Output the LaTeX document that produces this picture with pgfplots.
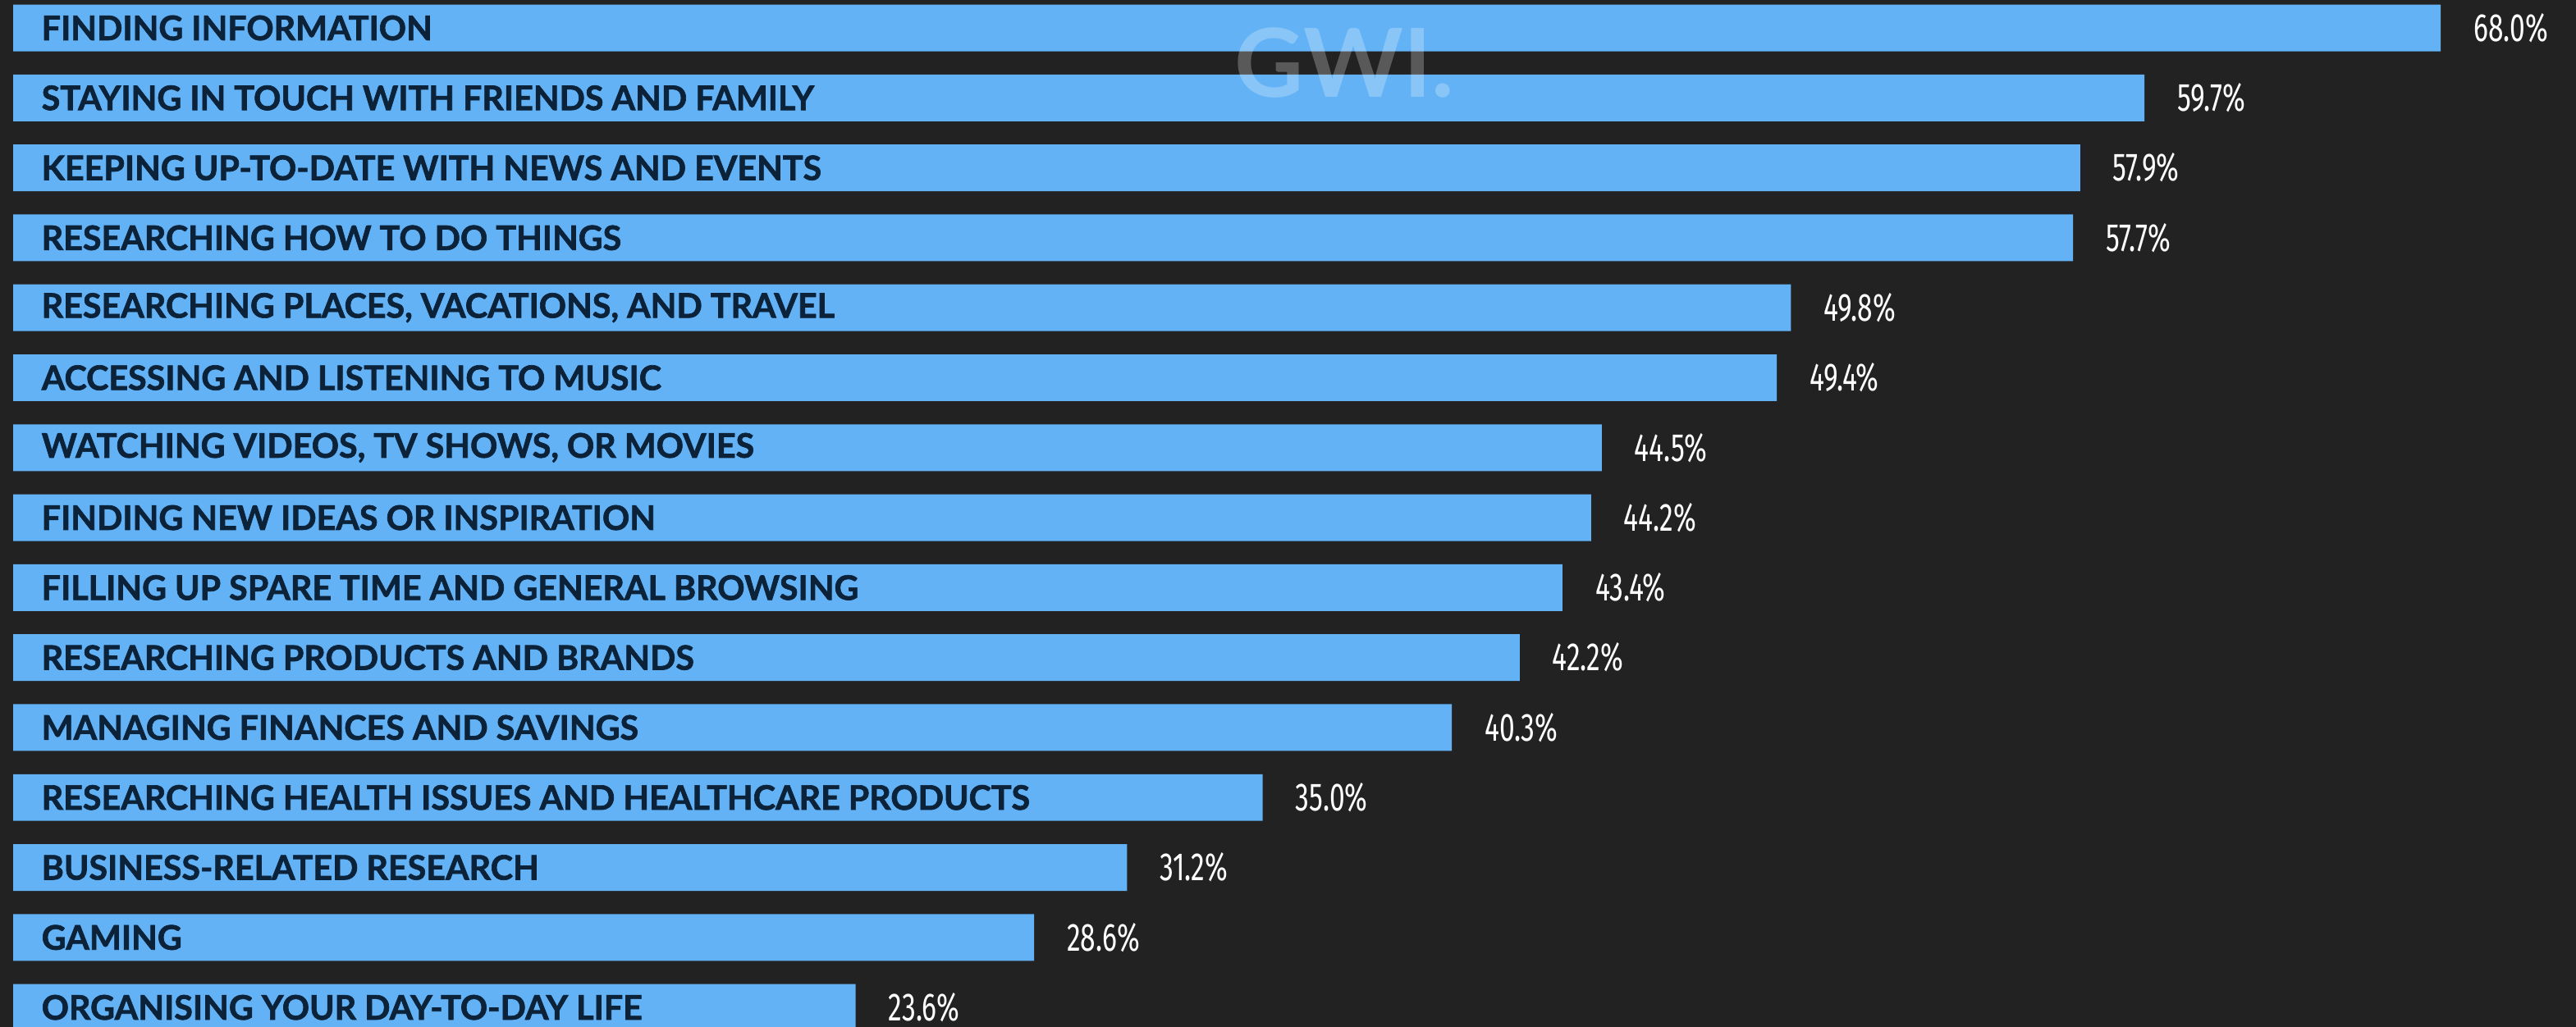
\documentclass[border=0pt]{standalone}
\usepackage{pgfplots}
\pgfplotsset{compat=1.18}
\usepackage{fontspec}
\setmainfont{Lato}[BoldFeatures={FakeBold=1.6}]
\newfontfamily\numfont[FakeStretch=0.70]{Fira Sans}
\newfontfamily\wmfont{Lato}
\definecolor{bg}{HTML}{222222}
\definecolor{barc}{HTML}{62B2F5}
\definecolor{labc}{HTML}{0B2239}
\begin{document}
\begin{tikzpicture}
\useasboundingbox (0,0) rectangle (784.75pt,313pt);
\clip (0,0) rectangle (784.75pt,313pt);
\fill[bg] (0,0) rectangle (784.75pt,313pt);
\begin{axis}[
  at={(0,0)}, anchor=south west,
  scale only axis, width=784.75pt, height=313pt,
  xmin=-0.368, xmax=71.79,
  ymin=-0.399, ymax=14.28,
  y dir=reverse,
  axis lines=none, ticks=none,
  xbar, bar width=0.668,
  clip=true,
  /pgf/number format/assume math mode=true,
  nodes near coords={\pgfmathprintnumber[fixed,fixed zerofill,precision=1]{\pgfplotspointmeta}\%},
  nodes near coords style={font=\numfont\fontsize{12}{14}\selectfont, text=white, anchor=west, xshift=6.5pt},
]
\addplot[fill=barc, draw=none] coordinates {
(68.0,0) (59.7,1) (57.9,2) (57.7,3) (49.8,4) (49.4,5) (44.5,6) (44.2,7)
(43.4,8) (42.2,9) (40.3,10) (35.0,11) (31.2,12) (28.6,13) (23.6,14)
};
\begin{scope}[every node/.style={anchor=west, text=labc, font=\bfseries\fontsize{10.3}{11}\selectfont, inner sep=0pt}]
\node at (axis cs:0.78,0) {FINDING INFORMATION};
\node at (axis cs:0.78,1) {STAYING IN TOUCH WITH FRIENDS AND FAMILY};
\node at (axis cs:0.78,2) {KEEPING UP-TO-DATE WITH NEWS AND EVENTS};
\node at (axis cs:0.78,3) {RESEARCHING HOW TO DO THINGS};
\node at (axis cs:0.78,4) {RESEARCHING PLACES, VACATIONS, AND TRAVEL};
\node at (axis cs:0.78,5) {ACCESSING AND LISTENING TO MUSIC};
\node at (axis cs:0.78,6) {WATCHING VIDEOS, TV SHOWS, OR MOVIES};
\node at (axis cs:0.78,7) {FINDING NEW IDEAS OR INSPIRATION};
\node at (axis cs:0.78,8) {FILLING UP SPARE TIME AND GENERAL BROWSING};
\node at (axis cs:0.78,9) {RESEARCHING PRODUCTS AND BRANDS};
\node at (axis cs:0.78,10) {MANAGING FINANCES AND SAVINGS};
\node at (axis cs:0.78,11) {RESEARCHING HEALTH ISSUES AND HEALTHCARE PRODUCTS};
\node at (axis cs:0.78,12) {BUSINESS-RELATED RESEARCH};
\node at (axis cs:0.78,13) {GAMING};
\node at (axis cs:0.78,14) {ORGANISING YOUR DAY-TO-DAY LIFE};
\end{scope}
\node[text=white, opacity=0.25, font=\wmfont\bfseries\fontsize{29}{31}\selectfont] at (axis cs:37.3,0.5) {GWI.};
\end{axis}
\end{tikzpicture}
\end{document}
